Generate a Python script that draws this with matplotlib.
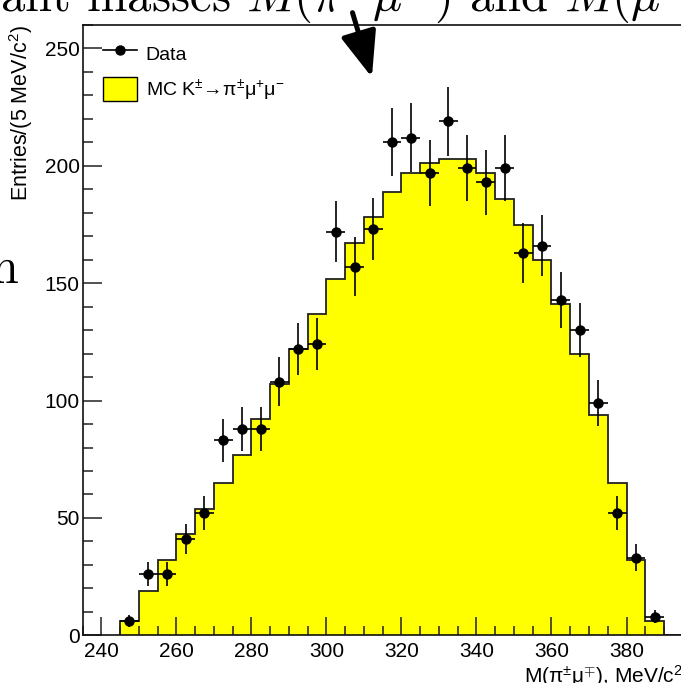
import numpy as np
import matplotlib
matplotlib.use("Agg")
import matplotlib.pyplot as plt
from matplotlib.ticker import MultipleLocator
from matplotlib.lines import Line2D
from matplotlib.patches import Patch, FancyArrowPatch

plt.rcParams['font.family'] = ['Liberation Sans', 'DejaVu Sans']
plt.rcParams['mathtext.fontset'] = 'custom'
plt.rcParams['mathtext.rm'] = 'Liberation Sans'
plt.rcParams['mathtext.it'] = 'Liberation Sans:italic'
plt.rcParams['mathtext.bf'] = 'Liberation Sans:bold'

# 5 MeV bins, M(pi mu) in MeV/c^2
bin_width = 5
mc_lo = 245
# MC K -> pi mu mu (normalised), bins 245..395
mc_counts = [6, 19, 32, 43, 54, 65, 77, 92, 107, 122, 137, 152, 167, 178, 189,
             197, 201, 203, 203, 197, 186, 175, 160, 141, 120, 94, 65, 32, 6, 0]
# data, bins 245..390
data_counts = [6, 26, 26, 41, 52, 83, 88, 88, 108, 122, 124, 172, 157, 173, 210,
               212, 197, 219, 199, 193, 199, 163, 166, 143, 130, 99, 52, 33, 8]

x_ticks = [240, 260, 280, 300, 320, 340, 360, 380]
y_ticks = [0, 50, 100, 150, 200, 250]

mc_edges = mc_lo + bin_width * np.arange(len(mc_counts) + 1)
data_centers = mc_lo + bin_width * (np.arange(len(data_counts)) + 0.5)
data_counts = np.array(data_counts)

W, H = 681, 683
fig = plt.figure(figsize=(W / 100, H / 100), dpi=100)
ax = fig.add_axes([82.5 / W, (H - 635.3) / H, 600.3 / W, 610.3 / H])

ax.stairs(mc_counts, mc_edges, fill=True, color='#ffff00', zorder=1)
ax.stairs(mc_counts, mc_edges, color='#222222', lw=1.3, zorder=2)
ax.errorbar(data_centers, data_counts, yerr=np.sqrt(data_counts), xerr=bin_width / 2,
            fmt='o', color='black', ms=6.5, elinewidth=1.2, capsize=0, zorder=3)

ax.set_xlim(235, 395)
ax.set_ylim(0, 260)
ax.set_xticks(x_ticks)
ax.set_yticks(y_ticks)
ax.xaxis.set_minor_locator(MultipleLocator(5))
ax.yaxis.set_minor_locator(MultipleLocator(10))
ax.tick_params(which='both', direction='in', top=False, right=False,
               width=1.1, color='#222222', labelsize=15)
ax.tick_params(axis='x', which='major', length=12.7, pad=5)
ax.tick_params(axis='x', which='minor', length=6.7)
ax.tick_params(axis='y', which='major', length=13.7, pad=2)
ax.tick_params(axis='y', which='minor', length=7.2)
for s in ax.spines.values():
    s.set_linewidth(1.2)
    s.set_color('#111111')

ax.set_xlabel(r"M(π$^{\pm}$μ$^{\mp}$), MeV/c$^{2}$", loc='right', fontsize=15, labelpad=1)
ax.set_ylabel(r"Entries/(5 MeV/c$^{2}$)", loc='top', fontsize=15.5, labelpad=7)

handles = [Line2D([], [], color='black', marker='o', ms=6.5, lw=1.2),
           Patch(facecolor='#ffff00', edgecolor='black', lw=1.0)]
labels = ["Data", r"MC K$^{\pm}$→π$^{\pm}$μ$^{+}$μ$^{-}$"]
ax.legend(handles, labels, loc='upper left', bbox_to_anchor=(103.3 / W, 1 - 41 / H),
          bbox_transform=fig.transFigure, frameon=False, fontsize=14,
          borderpad=0, borderaxespad=0, handlelength=1.75, handleheight=1.55,
          handletextpad=0.43, labelspacing=0.59, numpoints=1)

# surrounding page text and arrow (cropped)
fig.text(0, H - 11, r"ant masses $M(\pi^{\pm}\mu^{\mp})$ and $M(\mu^{\pm}\mu^{\mp})$",
         family='cmr10', size=35, math_fontfamily='cm',
         ha='left', va='baseline', transform=None)
fig.text(18, H - 283, "n", family='cmr10', size=36, ha='right', va='baseline', transform=None)
arrow = FancyArrowPatch((351.7, H - 10), (372.7, H - 80), transform=None,
                        arrowstyle='-|>,head_length=28,head_width=11',
                        mutation_scale=1, lw=3.6, color='black')
fig.add_artist(arrow)

fig.savefig("out.png", dpi=100)
